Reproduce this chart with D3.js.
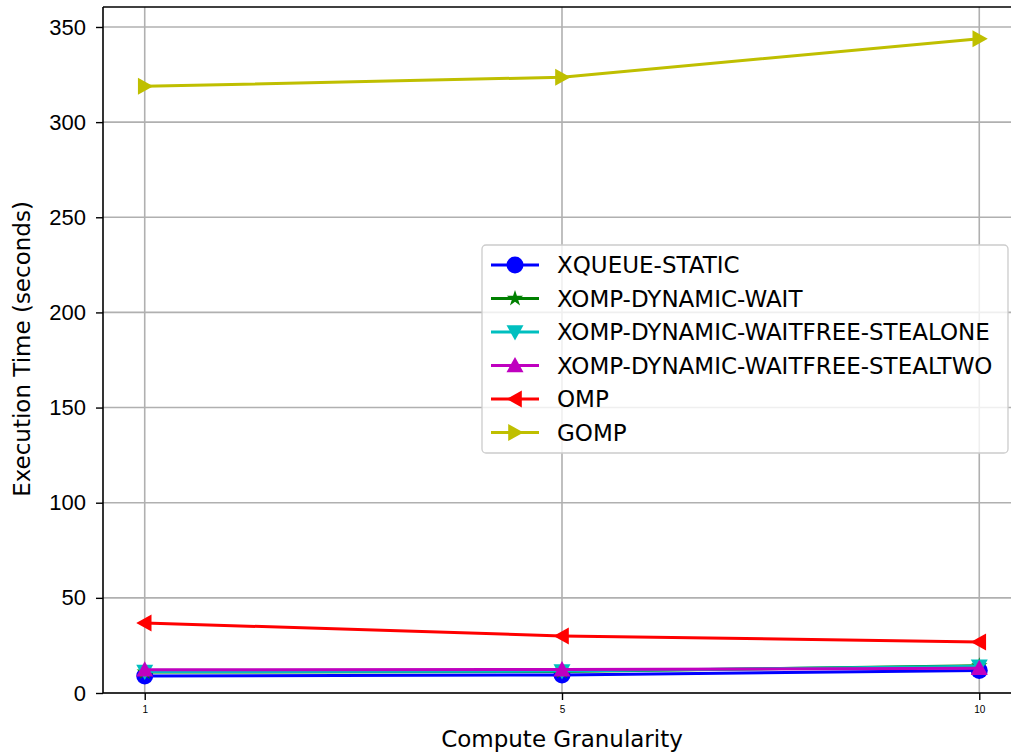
<!DOCTYPE html>
<html>
<head>
<meta charset="utf-8">
<script src="https://cdn.jsdelivr.net/npm/d3@7"></script>
<style>
  body { margin: 0; background: #fff; }
  svg { font-family: 'DejaVu Sans', sans-serif; display: block; }
</style>
</head>
<body>
<script>
// granularity values (shown as evenly spaced categories)
const granularity = ['1', '5', '10']

const xqueueStatic = [8.9, 9.5, 11.8]
const xompWait = [11.0, 11.3, 14.3]
const xompStealOne = [11.3, 11.5, 14.0]
const xompStealTwo = [12.2, 12.3, 13.0]
const omp = [36.8, 30.0, 26.8]
const gomp = [318.8, 323.6, 343.8]

const yTicks = [0, 50, 100, 150, 200, 250, 300, 350]

const series = [
  { name: 'XQUEUE-STATIC', values: xqueueStatic, color: '#0000ff', marker: 'circle' },
  { name: 'XOMP-DYNAMIC-WAIT', values: xompWait, color: '#008000', marker: 'star' },
  { name: 'XOMP-DYNAMIC-WAITFREE-STEALONE', values: xompStealOne, color: '#00bfbf', marker: 'down' },
  { name: 'XOMP-DYNAMIC-WAITFREE-STEALTWO', values: xompStealTwo, color: '#bf00bf', marker: 'up' },
  { name: 'OMP', values: omp, color: '#ff0000', marker: 'left' },
  { name: 'GOMP', values: gomp, color: '#bfbf00', marker: 'right' }
]

let width = 1011
let height = 753
let mLeft = 103
let mRight = 1021
let mTop = 7
let mBottom = 693

let svg = d3.select('body').append('svg')
  .attr('width', width)
  .attr('height', height)

// categorical x with matplotlib-like 5% margins
let x = d3.scaleLinear().domain([-0.1, 2.1]).range([mLeft, mRight])
let y = d3.scaleLinear().domain([0, 360.5]).range([mBottom, mTop])

// grid
svg.append('g').selectAll('line')
  .data(yTicks)
  .enter().append('line')
  .attr('x1', mLeft).attr('x2', mRight)
  .attr('y1', d => y(d)).attr('y2', d => y(d))
  .attr('stroke', '#b0b0b0').attr('stroke-width', 1.6)

svg.append('g').selectAll('line')
  .data(granularity)
  .enter().append('line')
  .attr('x1', (d, i) => x(i)).attr('x2', (d, i) => x(i))
  .attr('y1', mTop).attr('y2', mBottom)
  .attr('stroke', '#b0b0b0').attr('stroke-width', 1.6)

function markerPath (type, s) {
  if (type === 'circle') return d3.symbol(d3.symbolCircle, Math.PI * s * s)()
  if (type === 'star') return d3.symbol(d3.symbolStar, s * s * 1.3)()
  let pts
  if (type === 'up') pts = [[0, -s], [s, s * 0.8], [-s, s * 0.8]]
  if (type === 'down') pts = [[0, s], [s, -s * 0.8], [-s, -s * 0.8]]
  if (type === 'left') pts = [[-s, 0], [s * 0.8, -s], [s * 0.8, s]]
  if (type === 'right') pts = [[s, 0], [-s * 0.8, -s], [-s * 0.8, s]]
  return 'M' + pts.map(p => p.join(',')).join('L') + 'Z'
}

let line = d3.line()
  .x((d, i) => x(i))
  .y(d => y(d))

let plot = svg.append('g')

series.forEach(s => {
  plot.append('path')
    .attr('d', line(s.values))
    .attr('fill', 'none')
    .attr('stroke', s.color)
    .attr('stroke-width', 3)
  plot.selectAll(null)
    .data(s.values)
    .enter().append('path')
    .attr('transform', (d, i) => `translate(${x(i)},${y(d)})`)
    .attr('d', markerPath(s.marker, s.marker === 'star' ? 8 : 8.5))
    .attr('fill', s.color)
})

// spines
svg.append('line').attr('x1', mLeft).attr('x2', mLeft).attr('y1', mTop).attr('y2', mBottom)
  .attr('stroke', '#000').attr('stroke-width', 1.6)
svg.append('line').attr('x1', mLeft).attr('x2', mRight).attr('y1', mBottom).attr('y2', mBottom)
  .attr('stroke', '#000').attr('stroke-width', 1.6)
svg.append('line').attr('x1', mLeft).attr('x2', mRight).attr('y1', mTop).attr('y2', mTop)
  .attr('stroke', '#000').attr('stroke-width', 1.6)

// y axis
let yAxis = svg.append('g')
  .attr('transform', `translate(${mLeft},0)`)
  .call(d3.axisLeft(y).tickValues(yTicks).tickSize(7).tickPadding(10))
yAxis.select('.domain').remove()
yAxis.selectAll('line').attr('stroke', '#000').attr('stroke-width', 1.4)
yAxis.selectAll('text').attr('font-size', 22).attr('fill', '#000')

// x axis
let xAxis = svg.append('g')
  .attr('transform', `translate(0,${mBottom})`)
  .call(d3.axisBottom(x).tickValues([0, 1, 2]).tickFormat(i => granularity[i]).tickSize(7).tickPadding(6))
xAxis.select('.domain').remove()
xAxis.selectAll('line').attr('stroke', '#000').attr('stroke-width', 1.4)
xAxis.selectAll('text').attr('font-size', 10).attr('fill', '#000')

svg.append('text')
  .attr('x', 562).attr('y', 747)
  .attr('text-anchor', 'middle')
  .attr('font-size', 23)
  .text('Compute Granularity')

svg.append('text')
  .attr('transform', 'translate(30,349) rotate(-90)')
  .attr('text-anchor', 'middle')
  .attr('font-size', 23)
  .text('Execution Time (seconds)')

// legend
let lg = svg.append('g').attr('transform', 'translate(482,245)')
lg.append('rect')
  .attr('width', 526).attr('height', 208)
  .attr('rx', 4)
  .attr('fill', 'rgba(255,255,255,0.8)')
  .attr('stroke', '#cccccc').attr('stroke-width', 1.3)

series.forEach((s, i) => {
  let yy = 20 + i * 33.5
  lg.append('line')
    .attr('x1', 9).attr('x2', 57).attr('y1', yy).attr('y2', yy)
    .attr('stroke', s.color).attr('stroke-width', 3)
  lg.append('path')
    .attr('transform', `translate(33,${yy})`)
    .attr('d', markerPath(s.marker, s.marker === 'star' ? 8 : 8.5))
    .attr('fill', s.color)
  lg.append('text')
    .attr('x', 75).attr('y', yy + 8)
    .attr('font-size', 23)
    .text(s.name)
})
</script>
</body>
</html>
